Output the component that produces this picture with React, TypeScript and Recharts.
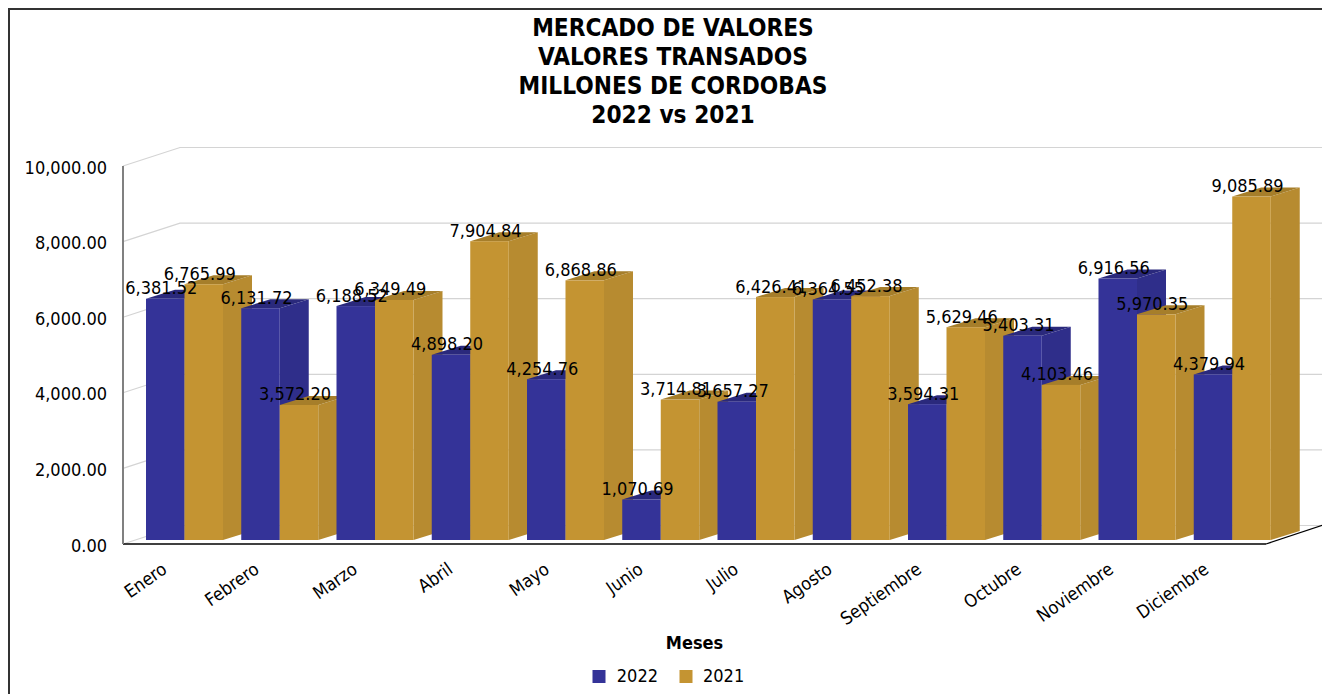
import React from "react";
import { BarChart, Bar, XAxis, YAxis, CartesianGrid, Legend, LabelList, Label } from "recharts";

const months = ["Enero","Febrero","Marzo","Abril","Mayo","Junio","Julio","Agosto","Septiembre","Octubre","Noviembre","Diciembre"];
const values2022 = [6381.52,6131.72,6188.52,4898.2,4254.76,1070.69,3657.27,6364.55,3594.31,5403.31,6916.56,4379.94];
const values2021 = [6765.99,3572.2,6349.49,7904.84,6868.86,3714.81,6426.41,6452.38,5629.46,4103.46,5970.35,9085.89];
const yTicks = [0,2000,4000,6000,8000,10000];
const titleLines = ["MERCADO DE VALORES","VALORES TRANSADOS","MILLONES DE CORDOBAS","2022 vs 2021"];

const data = months.map((m,i)=>({ month:m, y2022:values2022[i], y2021:values2021[i] }));

const FONT = "'DejaVu Sans Condensed','DejaVu Sans',sans-serif";
const fmt = (v:number)=>v.toLocaleString("en-US",{minimumFractionDigits:2,maximumFractionDigits:2});
const OX=14, OY=-4, DX=29, DY=-9;
const BLUE={front:"#343398",side:"#2f2e8a",top:"#2a297c"};
const GOLD={front:"#c49432",side:"#b78b30",top:"#a67e2a"};

function box(x:number,y:number,w:number,h:number,c:any){
  const X=x+OX, Y=y+OY;
  return <g>
    <polygon points={`${X+w},${Y} ${X+w+DX},${Y+DY} ${X+w+DX},${Y+h+DY} ${X+w},${Y+h}`} fill={c.side}/>
    <polygon points={`${X},${Y} ${X+DX},${Y+DY} ${X+w+DX},${Y+DY} ${X+w},${Y}`} fill={c.top}/>
    <rect x={X} y={Y} width={w} height={h} fill={c.front}/>
  </g>;
}
// Painted per category, so a bar's depth face falls behind the next category's bar.
const PairShape=(p:any)=>{
  const {x,y,width,height,payload}=p;
  const perUnit=height/payload.y2021;
  const bh=payload.y2022*perUnit;
  return <g>
    {box(x-width,y+height-bh,width,bh,BLUE)}
    {box(x,y,width,height,GOLD)}
  </g>;
};
const Empty=(p:any)=><rect x={p.x} y={p.y} width={p.width} height={p.height} fill="none"/>;
const ValueLabel=(p:any)=>(
  <text x={p.x+p.width/2+OX-4} y={p.y+OY-11} textAnchor="middle" dominantBaseline="central" fontSize={18} fontFamily={FONT} fill="#000">{fmt(p.value)}</text>
);
const GridLine=(p:any)=>{
  const {x1,y1,x2}=p;
  const isFloor=y1>500;
  return <g>
    <polyline points={`${x1},${y1} ${x1+57},${y1-18.5} ${x2+57},${y1-18.5}`} fill="none" stroke="#d4d4d4" strokeWidth={1.2}/>
    {isFloor&&<line x1={x2} y1={y1} x2={x2+57} y2={y1-19} stroke="#000" strokeWidth={1.2}/>}
  </g>;
};
const MonthTick=(p:any)=>{
  const len=String(p.payload.value).length;
  return <text transform={`translate(${p.x+5-len*1.5},${p.y+20}) rotate(-35)`} textAnchor="end" fontSize={18} fontFamily={FONT} fill="#000">{p.payload.value}</text>;
};
const YTick=(p:any)=>(
  <text x={p.x} y={p.y+1} textAnchor="end" dominantBaseline="central" fontSize={18} fontFamily={FONT} fill="#000">{fmt(p.payload.value)}</text>
);
const LegendBody=(p:any)=>(
  <div style={{display:"flex",justifyContent:"center",transform:"translateX(7.5px)",fontFamily:FONT,fontSize:18,lineHeight:"26px",color:"#000"}}>
    {(p.payload||[]).filter((e:any)=>e.type!=="none").map((e:any,i:number)=>(
      <div key={e.value} style={{display:"flex",alignItems:"center",marginLeft:i?21:0}}>
        <span style={{width:13,height:13,background:e.color,marginRight:11,display:"inline-block"}}/>
        <span>{e.value}</span>
      </div>
    ))}
  </div>
);

export default function App(){
  return <div style={{position:"absolute",left:0,top:0,width:1322,height:694,overflow:"hidden",background:"#fff"}}>
    <div style={{position:"absolute",left:8,top:8,width:1400,height:800,borderLeft:"2px solid #333",borderTop:"2px solid #333"}}/>
    <div style={{position:"absolute",left:373,top:14,width:600,textAlign:"center",fontFamily:FONT,fontWeight:"bold",fontSize:24.2,lineHeight:"29px",color:"#000"}}>
      {titleLines.map(t=><div key={t}>{t}</div>)}
    </div>
    <div style={{position:"absolute",left:0,top:0}}>
      <BarChart width={1322} height={694} data={data} margin={{top:166,right:56,bottom:0,left:23}} barGap={0} barSize={38.5}>
        <CartesianGrid vertical={false} horizontal={GridLine as any}/>
        <XAxis dataKey="month" height={120} tick={MonthTick} tickLine={false} axisLine={{stroke:"#000",strokeWidth:1.5}} interval={0}>
          <Label value="Meses" position="insideBottom" offset={15} style={{fontFamily:FONT,fontWeight:"bold",fontSize:18,fill:"#000"}}/>
        </XAxis>
        <XAxis dataKey="month" xAxisId="labels" hide/>
        <YAxis width={100} domain={[0,10000]} ticks={yTicks} tick={YTick} tickLine={false} tickMargin={10} axisLine={{stroke:"#808080",strokeWidth:2}}/>
        <Legend height={30} itemSorter={null as any} content={LegendBody} wrapperStyle={{left:0,width:1322,bottom:1}}/>
        <Bar dataKey="y2022" name="2022" fill={BLUE.front} shape={Empty} isAnimationActive={false}/>
        <Bar dataKey="y2021" name="2021" fill={GOLD.front} shape={PairShape} isAnimationActive={false}/>
        <Bar dataKey="y2022" xAxisId="labels" legendType="none" shape={Empty} isAnimationActive={false}>
          <LabelList dataKey="y2022" content={ValueLabel}/>
        </Bar>
        <Bar dataKey="y2021" xAxisId="labels" legendType="none" shape={Empty} isAnimationActive={false}>
          <LabelList dataKey="y2021" content={ValueLabel}/>
        </Bar>
      </BarChart>
    </div>
  </div>;
}
